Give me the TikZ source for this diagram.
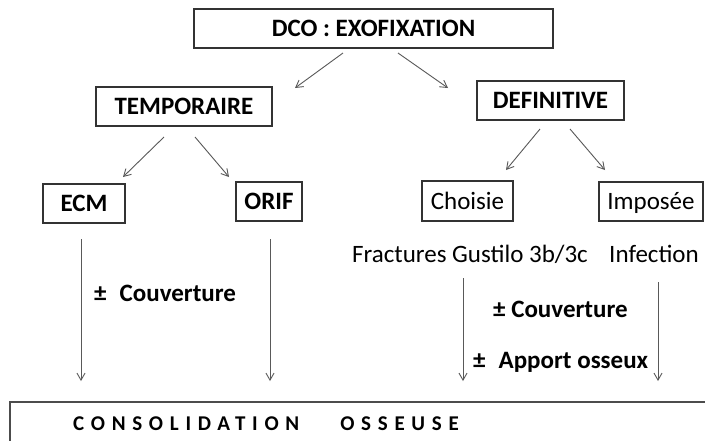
\documentclass[tikz,border=0pt]{standalone}
\usepackage{fontspec}
\setmainfont{Carlito}
\usetikzlibrary{arrows.meta}
\tikzset{
  box/.style={draw=black!80, line width=1.1pt, inner sep=0pt, text height=16pt, text depth=0pt, align=center},
  lbl/.style={inner sep=0pt, text height=16pt, text depth=0pt, anchor=west},
  conn/.style={draw=black!65, line width=0.9pt, -{Straight Barb[length=7pt,width=8pt,line width=0.9pt]}},
  big/.style={font=\fontsize{25pt}{28pt}\selectfont\bfseries},
  norm/.style={font=\fontsize{25pt}{28pt}\selectfont},
}
\begin{document}
\begin{tikzpicture}[x=1pt,y=-1pt]
\useasboundingbox (0,0) rectangle (705,440);
\fill[white] (0,0) rectangle (705,440);
% boxes
\node[box,big,minimum width=359pt,minimum height=39pt] (dco) at (373.5,28.5) {DCO : EXOFIXATION};
\node[box,big,minimum width=176pt,minimum height=39pt] (temp) at (184,106.5) {TEMPORAIRE};
\node[box,big,minimum width=147pt,minimum height=39pt] (def) at (550.5,100.5) {DEFINITIVE};
\node[box,big,minimum width=82pt,minimum height=39pt] (ecm) at (84,203.5) {ECM};
\node[box,big,minimum width=66pt,minimum height=39pt] (orif) at (269,201.5) {ORIF};
\node[box,norm,minimum width=91pt,minimum height=40pt] (choisie) at (467.5,201) {Choisie};
\node[box,norm,minimum width=104pt,minimum height=39pt] (imposee) at (651,201.5) {Imposée};
% bottom box
\draw[draw=black!70, line width=1.1pt] (10,402) rectangle (720,470);
\node[inner sep=0pt, text height=14pt, text depth=0pt, anchor=west, font=\fontsize{21pt}{24pt}\selectfont\bfseries\addfontfeature{LetterSpace=32}] (cons) at (73,423) {CONSOLIDATION\hspace{41pt}OSSEUSE};
% labels
\node[lbl,norm] (frac) at (352,254) {Fractures Gustilo 3b/3c};
\node[lbl,norm] (inf) at (609,254) {Infection};
\node[lbl,big] (couvL) at (94,293) {±\hspace{13pt}Couverture};
\node[lbl,big] (couvR) at (493,309.5) {± Couverture};
\node[lbl,big] (apport) at (473,360) {±\hspace{13pt}Apport osseux};
% connector end points
\coordinate (d1) at (343,53);
\coordinate (d2) at (398,53);
\coordinate (t0) at (295,88);
\coordinate (f0) at (448,88);
\coordinate (t1) at (164,137);
\coordinate (t2) at (195,137);
\coordinate (e0) at (123,177);
\coordinate (o0) at (229,177);
\coordinate (f1) at (540,129);
\coordinate (f2) at (570,129);
\coordinate (c0) at (506,170);
\coordinate (i0) at (605,170);
\coordinate (ea) at (81,239);
\coordinate (eb) at (81,381);
\coordinate (oa) at (270,239);
\coordinate (ob) at (270,381);
\coordinate (ca) at (463,278);
\coordinate (cb) at (463,381);
\coordinate (ia) at (658,282);
\coordinate (ib) at (658,381);
% connectors
\draw[conn] (d1) -- (t0);
\draw[conn] (d2) -- (f0);
\draw[conn] (t1) -- (e0);
\draw[conn] (t2) -- (o0);
\draw[conn] (f1) -- (c0);
\draw[conn] (f2) -- (i0);
\draw[conn] (ea) -- (eb);
\draw[conn] (oa) -- (ob);
\draw[conn] (ca) -- (cb);
\draw[conn] (ia) -- (ib);
\end{tikzpicture}
\end{document}
